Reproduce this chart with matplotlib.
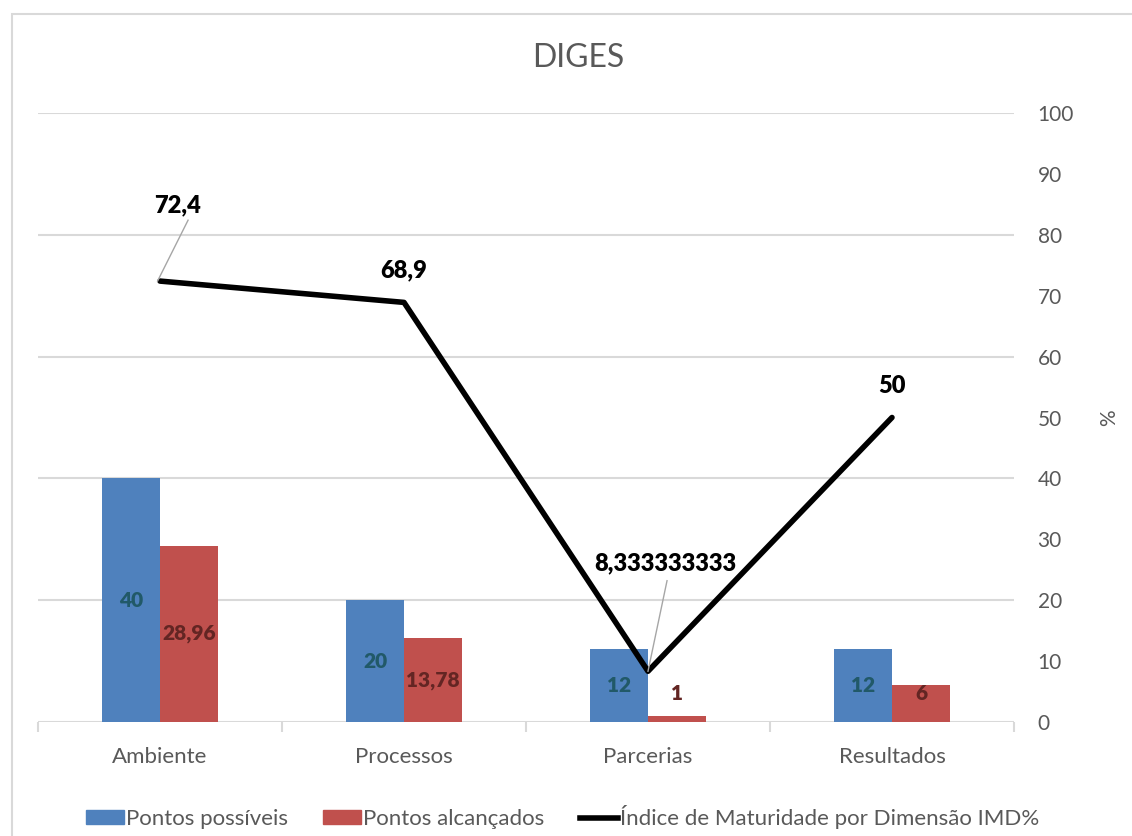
import matplotlib.pyplot as plt
from matplotlib.patches import Patch, Rectangle
from matplotlib.lines import Line2D
import numpy as np

plt.rcParams['font.family'] = ['Lato', 'DejaVu Sans']

categories = ["Ambiente", "Processos", "Parcerias", "Resultados"]
pontos_possiveis = [40, 20, 12, 12]
pontos_alcancados = [28.96, 13.78, 1, 6]
imd = [72.4, 68.9, 8.333333333, 50]
imd_labels = ["72,4", "68,9", "8,333333333", "50"]
possiveis_labels = ["40", "20", "12", "12"]
alcancados_labels = ["28,96", "13,78", "1", "6"]

BLUE = "#4F81BD"
RED = "#C0504D"
GRID = "#D9D9D9"
TEXT = "#595959"

fig = plt.figure(figsize=(11.32, 8.36), dpi=100)
ax = fig.add_axes([38 / 1132, 1 - 722 / 836, (1014 - 38) / 1132, (722 - 113) / 836])

# outer chart border
fig.patches.append(Rectangle((12 / 1132, -0.1), 1.2, (836 - 14) / 836 + 0.1,
                             transform=fig.transFigure, fill=False,
                             edgecolor=GRID, lw=1.5))

x = np.arange(len(categories))
w = 0.238

ax.bar(x - w / 2, pontos_possiveis, w, color=BLUE, zorder=2)
ax.bar(x + w / 2, pontos_alcancados, w, color=RED, zorder=2)

for i in range(len(categories)):
    ax.text(x[i] - w / 2, max(pontos_possiveis[i] / 2, 5.2), possiveis_labels[i],
            ha="center", va="center", fontsize=15, fontweight="heavy",
            color="#215968", zorder=4)
    ax.text(x[i] + w / 2, max(pontos_alcancados[i] / 2, 4.6), alcancados_labels[i],
            ha="center", va="center", fontsize=15, fontweight="heavy",
            color="#632523", zorder=4)

ax.plot(x, imd, color="black", lw=4, solid_capstyle="round", zorder=3)

# line value labels (two of them with leader lines)
label_pos = [(0.07, 84.9), (0.0, 74.2), (0.07, 26.1), (0.0, 55.2)]
for i, (dx, ly) in enumerate(label_pos):
    ax.text(x[i] + dx, ly, imd_labels[i], ha="center", va="center",
            fontsize=17, fontweight="heavy", color="black", zorder=5)
ax.plot([x[0] - 0.01, x[0] + 0.115], [imd[0], 82.4], color="#A6A6A6", lw=1, zorder=4)
ax.plot([x[2], x[2] + 0.078], [imd[2], 23.2], color="#A6A6A6", lw=1, zorder=4)

for yg in range(0, 101, 20):
    ax.axhline(yg, color=GRID, lw=1.5, zorder=1)

ax.set_xlim(-0.5, 3.5)
ax.set_ylim(0, 100)
ax.yaxis.tick_right()
ax.yaxis.set_label_position("right")
ax.set_yticks(range(0, 101, 10))
ax.tick_params(axis="y", length=0, labelsize=15, labelcolor=TEXT, pad=17)
ax.set_ylabel("%", fontsize=15, color=TEXT, labelpad=18)

ax.set_xticks(x)
ax.set_xticklabels(categories, fontsize=16, color=TEXT)
ax.tick_params(axis="x", length=0, pad=18)
ax.set_xticks(np.arange(-0.5, 3.6, 1), minor=True)
ax.tick_params(axis="x", which="minor", length=7, color=GRID, width=1.5)

for s in ax.spines.values():
    s.set_visible(False)

fig.text(578 / 1132, 1 - 58 / 836, "DIGES", ha="center", va="center",
         fontsize=23, color=TEXT)

handles = [Patch(color=BLUE), Patch(color=RED), Line2D([0], [0], color="black", lw=4)]
labels = ["Pontos possíveis", "Pontos alcançados", "Índice de Maturidade por Dimensão IMD%"]
fig.legend(handles, labels, loc="center", bbox_to_anchor=(0.497, 1 - 817 / 836), ncol=3,
           frameon=False, fontsize=16, labelcolor=TEXT, handlelength=1.7,
           handleheight=0.55, handletextpad=0.1, columnspacing=1.6)

fig.savefig("out.png", dpi=100)
